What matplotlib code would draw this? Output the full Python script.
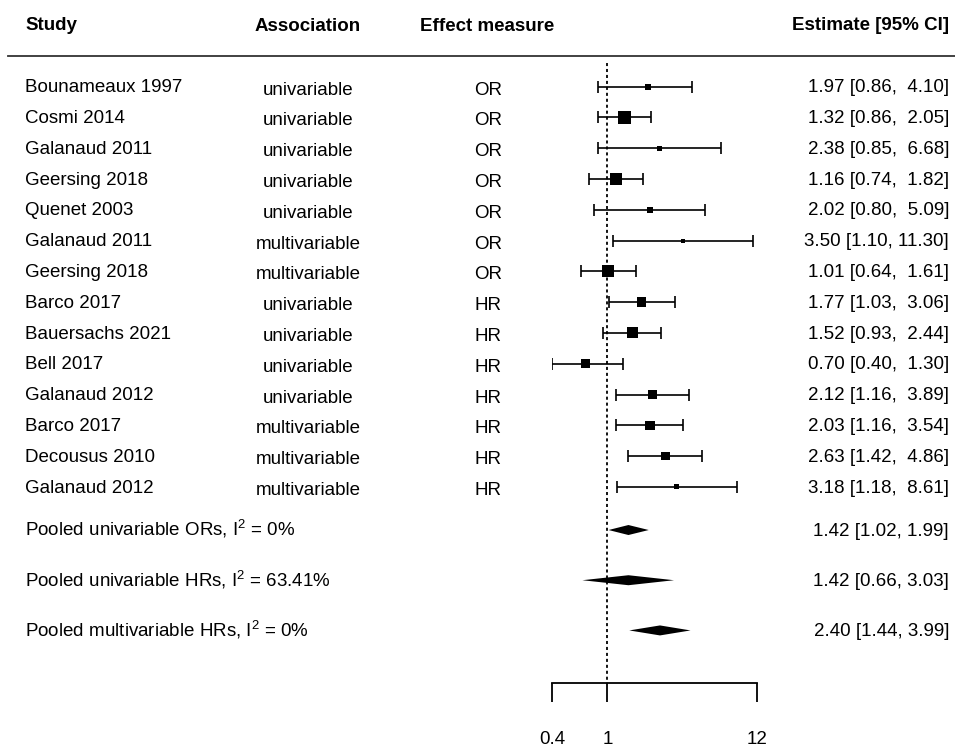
import numpy as np
import matplotlib.pyplot as plt
from matplotlib.transforms import blended_transform_factory

plt.rcParams['font.family'] = ['Liberation Sans', 'DejaVu Sans']
plt.rcParams['mathtext.fontset'] = 'custom'
plt.rcParams['mathtext.rm'] = 'Liberation Sans'
plt.rcParams['mathtext.it'] = 'Liberation Sans:italic'

# --- data ---
studies = ["Bounameaux 1997", "Cosmi 2014", "Galanaud 2011", "Geersing 2018",
           "Quenet 2003", "Galanaud 2011", "Geersing 2018", "Barco 2017",
           "Bauersachs 2021", "Bell 2017", "Galanaud 2012", "Barco 2017",
           "Decousus 2010", "Galanaud 2012"]
association = ["univariable"] * 5 + ["multivariable"] * 2 + \
              ["univariable"] * 4 + ["multivariable"] * 3
measure = ["OR"] * 7 + ["HR"] * 7
est = [1.97, 1.32, 2.38, 1.16, 2.02, 3.50, 1.01, 1.77, 1.52, 0.70, 2.12, 2.03, 2.63, 3.18]
ci_lo = [0.86, 0.86, 0.85, 0.74, 0.80, 1.10, 0.64, 1.03, 0.93, 0.40, 1.16, 1.16, 1.42, 1.18]
ci_hi = [4.10, 2.05, 6.68, 1.82, 5.09, 11.30, 1.61, 3.06, 2.44, 1.30, 3.89, 3.54, 4.86, 8.61]
# square side in pixels (weight of each study)
box_px = [6, 13, 5, 12, 6, 4, 12, 9.5, 11, 9, 9, 9.5, 8.5, 5]

pooled_labels = ["Pooled univariable ORs", "Pooled univariable HRs", "Pooled multivariable HRs"]
pooled_i2 = ["0%", "63.41%", "0%"]
pooled_est = [1.42, 1.42, 2.40]
pooled_lo = [1.02, 0.66, 1.44]
pooled_hi = [1.99, 3.03, 3.99]

axis_ticks = [0.4, 1, 12]

# --- layout ---
W, H = 955, 747
ROW_PX, TOP_PX = 30.8, 86.5
FS = 13.5


def px2row(p):
    return (p - TOP_PX) / ROW_PX


fig = plt.figure(figsize=(W / 100, H / 100), dpi=100)
ax = fig.add_axes([552.3 / W, 0, (756.7 - 552.3) / W, 1])
ax.set_xscale('log')
ax.set_xlim(0.4, 12)
ax.set_ylim(px2row(H), px2row(0))

n = len(studies)
rows = np.arange(n)
pooled_rows = n + 0.4 + np.arange(len(pooled_est)) * 1.63
axis_row = n + 5.37

est = np.array(est)
ci_lo = np.array(ci_lo)
ci_hi = np.array(ci_hi)

# reference line at 1
ax.plot([1, 1], [px2row(63), axis_row], color='black', lw=1.3,
        ls=(0, (1.7, 1.6)), zorder=1)

# study CIs and squares
ax.errorbar(est, rows, xerr=[est - ci_lo, ci_hi - est], fmt='none',
            ecolor='black', elinewidth=1.2, capsize=4.5, capthick=1.2, zorder=2)
ax.scatter(est, rows, s=(np.array(box_px) * 0.72) ** 2, marker='s',
           color='black', linewidths=0, zorder=3)

# pooled diamonds
h = 5 / ROW_PX
for r, e, l, u in zip(pooled_rows, pooled_est, pooled_lo, pooled_hi):
    ax.fill([l, e, u, e], [r, r - h, r, r + h], color='black', lw=0, zorder=3)

# x axis as bracket
for side in ['top', 'left', 'right']:
    ax.spines[side].set_visible(False)
ax.spines['bottom'].set_position(('data', axis_row))
ax.spines['bottom'].set_linewidth(1.3)
ax.set_xticks(axis_ticks)
ax.set_xticklabels([f"{t:g}" for t in axis_ticks])
ax.xaxis.set_minor_locator(plt.NullLocator())
ax.tick_params(axis='x', direction='out', length=13.7, width=1.3,
               labelsize=FS, pad=21)
ax.set_yticks([])
ax.patch.set_alpha(0)

# text columns
trans = blended_transform_factory(fig.transFigure, ax.transData)
hdr_row = px2row(25)
kw = dict(transform=trans, fontsize=FS, va='center', clip_on=False)
ax.text(25 / W, hdr_row, "Study", ha='left', fontweight='bold', **kw)
ax.text(308 / W, hdr_row + 0.04, "Association", ha='center', fontweight='bold', **kw)
ax.text(487 / W, hdr_row + 0.04, "Effect measure", ha='center', fontweight='bold', **kw)
ax.text(949 / W, hdr_row, "Estimate [95% CI]", ha='right', fontweight='bold', **kw)
ax.plot([8 / W, 1], [px2row(55.5), px2row(55.5)], transform=trans, color='#333333',
        lw=1.3, clip_on=False)

for r, s, a, m, e, l, u in zip(rows, studies, association, measure, est, ci_lo, ci_hi):
    ax.text(25 / W, r + 0.04, s, ha='left', **kw)
    ax.text(308 / W, r + 0.12, a, ha='center', **kw)
    ax.text(488 / W, r + 0.12, m, ha='center', **kw)
    ax.text(949 / W, r + 0.04, f"{e:.2f} [{l:.2f}, {u:5.2f}]", ha='right', **kw)

for r, lab, i2, e, l, u in zip(pooled_rows, pooled_labels, pooled_i2,
                               pooled_est, pooled_lo, pooled_hi):
    ax.text(25 / W, r - 0.02, lab + r", I$^{2}$ = " + i2, ha='left', **kw)
    ax.text(949 / W, r + 0.04, f"{e:.2f} [{l:.2f}, {u:.2f}]", ha='right', **kw)

fig.savefig('out.png', dpi=100)
